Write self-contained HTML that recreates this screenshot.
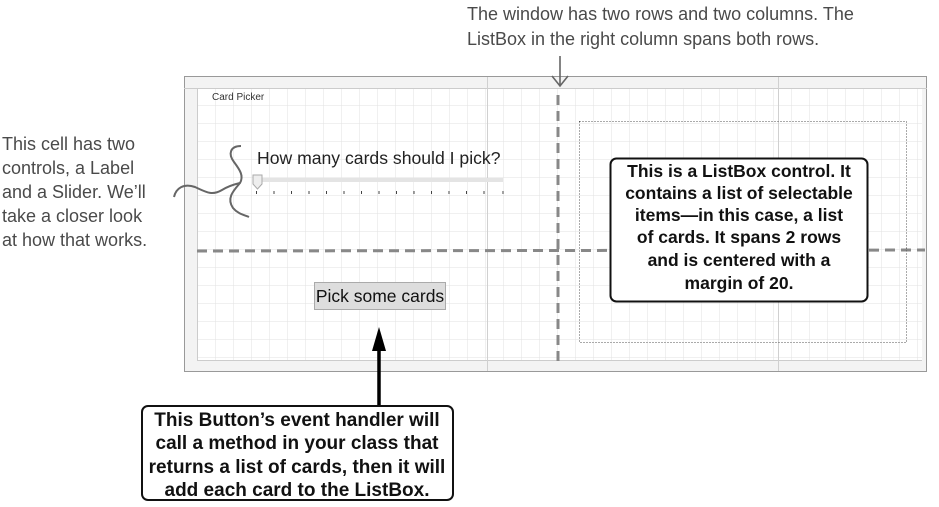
<!DOCTYPE html>
<html><head><meta charset="utf-8"><style>
html,body{margin:0;padding:0;background:#fff;width:939px;height:507px;overflow:hidden}
svg{display:block}
.hand{font-family:"Liberation Sans",sans-serif;font-size:18px;fill:#4a4a4a}
.bold{font-family:"Liberation Sans",sans-serif;font-weight:bold;font-size:17.5px;fill:#111}
</style></head><body>
<svg width="939" height="507" viewBox="0 0 939 507" xmlns="http://www.w3.org/2000/svg">
<defs>
<pattern id="g" x="197" y="87" width="18" height="18" patternUnits="userSpaceOnUse">
<path d="M0 0H18M0 0V18" stroke="#e2e2e2" stroke-width="1" fill="none"/>
</pattern>
</defs>
<rect x="184.5" y="76.5" width="742" height="295" fill="#f3f3f3" stroke="#999"/>
<rect x="197" y="88" width="725" height="272" fill="#fff"/>
<rect x="197" y="88" width="725" height="272" fill="url(#g)"/>
<line x1="184" y1="88.5" x2="927" y2="88.5" stroke="#ccc"/>
<line x1="197.5" y1="88" x2="197.5" y2="360" stroke="#ccc"/>
<line x1="197" y1="360.5" x2="922" y2="360.5" stroke="#ccc"/>
<line x1="487.5" y1="77" x2="487.5" y2="371" stroke="#d0d0d0"/>
<line x1="778.5" y1="77" x2="778.5" y2="371" stroke="#d0d0d0"/>
<text x="212" y="100" font-family="Liberation Sans,sans-serif" font-size="10" fill="#333">Card Picker</text>
<text x="257" y="164" font-family="Liberation Sans,sans-serif" font-size="17.6" fill="#222">How many cards should I pick?</text>
<rect x="253" y="178" width="250" height="4" fill="#e4e4e4"/>
<path d="M253 175H262V184L257.5 189L253 184Z" fill="#eee" stroke="#aaa"/>
<g stroke="#444" stroke-width="1">
<path d="M256.5 191v3M274 191v3M291.5 191v3M309 191v3M326.5 191v3M344 191v3M361.5 191v3M379 191v3M396.5 191v3M414 191v3M431.5 191v3M449 191v3M466.5 191v3M484 191v3M503 191v3"/>
</g>
<path d="M241 146C230 146 228 154 234 162C240 170 244 176 240 183C234 190 226 198 233 208C238 214 244 215 249 217" fill="none" stroke="#666" stroke-width="2"/>
<path d="M174 197C176 188 184 183 195 187C206 192 212 196 222 190C230 185 236 184 240 183" fill="none" stroke="#666" stroke-width="2"/>
<rect x="314.5" y="282.5" width="131" height="27" fill="#ddd" stroke="#aaa"/>
<text x="380" y="302" text-anchor="middle" font-family="Liberation Sans,sans-serif" font-size="17.5" fill="#111">Pick some cards</text>
<line x1="558" y1="95" x2="558" y2="364" stroke="#888" stroke-width="3" stroke-dasharray="10 6"/>
<line x1="197" y1="251" x2="925" y2="250" stroke="#888" stroke-width="3" stroke-dasharray="10 6"/>
<rect x="579.5" y="121.5" width="327" height="221" fill="none" stroke="#555" stroke-dasharray="1 2"/>
<rect x="610.5" y="158.5" width="257" height="143" rx="6" fill="#fff" stroke="#111" stroke-width="2"/>
<g class="bold" text-anchor="middle">
<text x="739" y="177">This is a ListBox control. It</text>
<text x="739" y="199">contains a list of selectable</text>
<text x="739" y="221">items—in this case, a list</text>
<text x="739" y="243">of cards. It spans 2 rows</text>
<text x="739" y="266">and is centered with a</text>
<text x="739" y="289">margin of 20.</text>
</g>
<text class="hand" x="467" y="20">The window has two rows and two columns. The</text>
<text class="hand" x="467" y="45">ListBox in the right column spans both rows.</text>
<path d="M560 56V86M552 76L560 86L568 76" fill="none" stroke="#666" stroke-width="1.6"/>
<text class="hand" x="2" y="150">This cell has two</text>
<text class="hand" x="2" y="174">controls, a Label</text>
<text class="hand" x="2" y="198">and a Slider. We’ll</text>
<text class="hand" x="2" y="222">take a closer look</text>
<text class="hand" x="2" y="246">at how that works.</text>
<line x1="379" y1="408" x2="379" y2="345" stroke="#000" stroke-width="3.5"/>
<path d="M379 327L372 351H386Z" fill="#000"/>
<rect x="142" y="406" width="311" height="94" rx="6" fill="#fff" stroke="#111" stroke-width="2"/>
<g class="bold" text-anchor="middle" style="font-size:19px">
<text x="297" y="426">This Button’s event handler will</text>
<text x="297" y="449">call a method in your class that</text>
<text x="297" y="473">returns a list of cards, then it will</text>
<text x="297" y="496">add each card to the ListBox.</text>
</g>
</svg>
</body></html>
